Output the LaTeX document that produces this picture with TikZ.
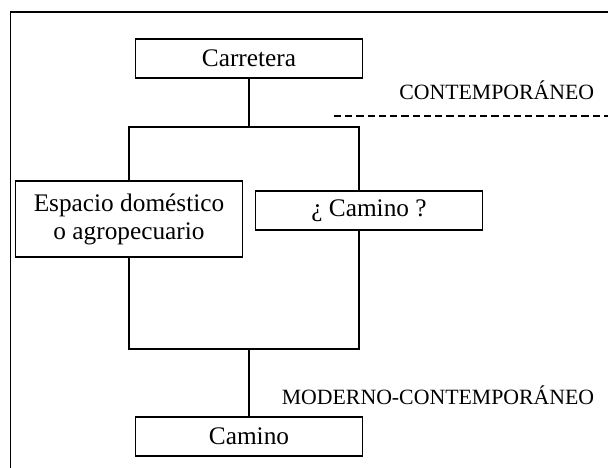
\documentclass[tikz,border=0pt]{standalone}
\usepackage{fontspec}
\setmainfont{Liberation Serif}
\usepackage{tikz}
\usetikzlibrary{positioning,calc}

\begin{document}
\begin{tikzpicture}[x=0.025cm,y=-0.025cm,line width=1.1pt,
  caja/.style={draw,black,fill=white,minimum width=5.675cm,inner sep=2pt,font=\fontsize{18}{20}\selectfont,align=center},
  etiqueta/.style={anchor=east,inner sep=0pt,font=\fontsize{15.5}{18}\selectfont}]
\useasboundingbox (0,0) rectangle (608,468);
\draw (608,12) -- (10.5,12) -- (10.5,468);
% periodo
\node[etiqueta] (cont) at (595,90) {CONTEMPORÁNEO};
\draw[dash pattern=on 5pt off 3pt] (334,116) coordinate(dashA) -- (608,116) coordinate(dashB);
\node[etiqueta] (moder) at (595,395) {MODERNO-CONTEMPORÁNEO};
% conexiones
\coordinate (top) at (249,127);
\coordinate (bot) at (249,349);
\draw (129,127) rectangle (359,349);
\node[caja,minimum height=0.975cm] (carretera) at (249,58.5) {Carretera};
\node[caja,minimum height=0.975cm] (camino) at (249,436.5) {Camino};
\node[caja,minimum height=1.9cm] (espacio) at (129,219) {Espacio doméstico\\o agropecuario};
\node[caja,minimum height=0.975cm] (pcamino) at (369,210.5) {¿ Camino ?};
\draw (carretera.south) -- (top);
\draw (bot) -- (camino.north);
\end{tikzpicture}
\end{document}
